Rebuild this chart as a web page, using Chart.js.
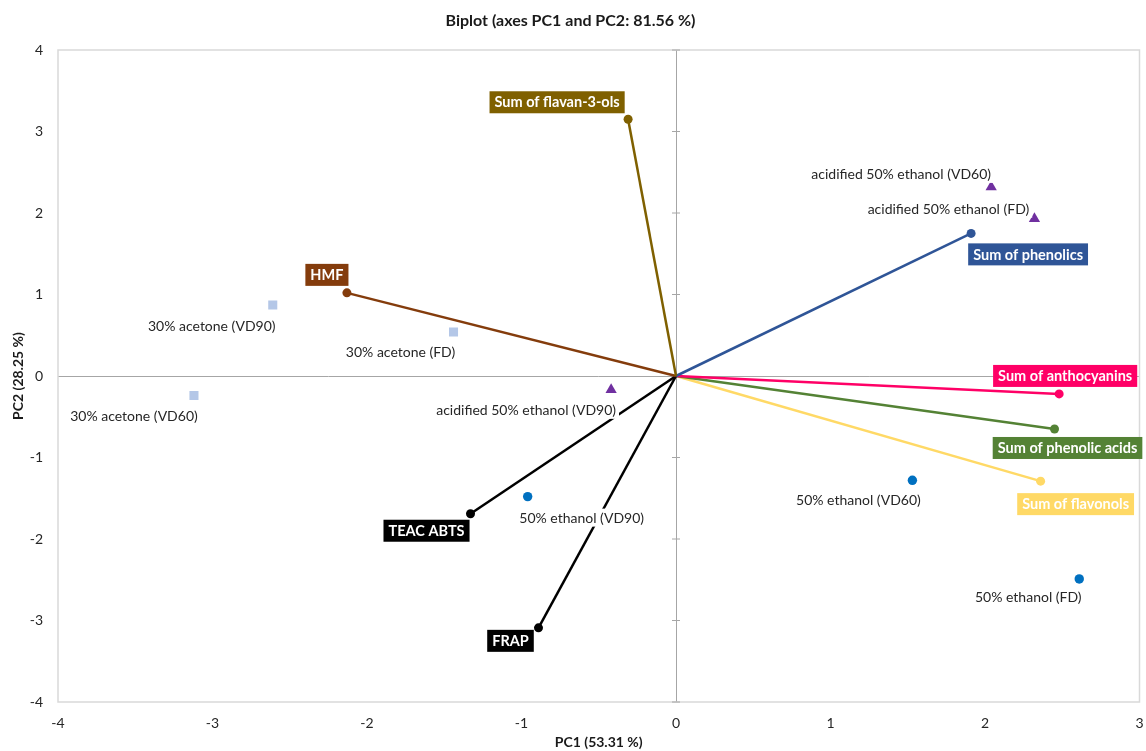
<!DOCTYPE html>
<html>
<head>
<meta charset="utf-8">
<script src="https://cdn.jsdelivr.net/npm/chart.js@4.4.1/dist/chart.umd.min.js"></script>
<style>
  html, body { margin: 0; padding: 0; background: #ffffff; }
  #wrap { width: 1146px; height: 751px; }
</style>
</head>
<body>
<div id="wrap"><canvas id="biplot" width="1146" height="751"></canvas></div>
<script>
// Variable loadings (vectors from the origin)
const variableNames = ['Sum of flavan-3-ols', 'Sum of phenolics', 'HMF', 'TEAC ABTS', 'FRAP',
  'Sum of anthocyanins', 'Sum of phenolic acids', 'Sum of flavonols'];
const variablePC1 = [-0.31, 1.91, -2.13, -1.33, -0.89, 2.48, 2.45, 2.36];
const variablePC2 = [3.15, 1.75, 1.02, -1.69, -3.09, -0.22, -0.65, -1.29];

// Observation scores, one group per extraction solvent
const acetoneNames = ['30% acetone (VD90)', '30% acetone (FD)', '30% acetone (VD60)'];
const acetonePC1 = [-2.61, -1.44, -3.12];
const acetonePC2 = [0.87, 0.54, -0.24];

const acidifiedNames = ['acidified 50% ethanol (VD60)', 'acidified 50% ethanol (FD)', 'acidified 50% ethanol (VD90)'];
const acidifiedPC1 = [2.04, 2.32, -0.42];
const acidifiedPC2 = [2.32, 1.93, -0.17];

const ethanolNames = ['50% ethanol (VD90)', '50% ethanol (VD60)', '50% ethanol (FD)'];
const ethanolPC1 = [-0.96, 1.53, 2.61];
const ethanolPC2 = [-1.48, -1.28, -2.49];

// Axis ticks
const xTicks = [-4, -3, -2, -1, 0, 1, 2, 3];
const yTicks = [-4, -3, -2, -1, 0, 1, 2, 3, 4];

// Styling
const variableColors = ['#7F6000', '#2F5597', '#843C0C', '#000000', '#000000', '#FF0066', '#548235', '#FFD966'];
// Label box offsets (px) from each vector tip
const variableLabelOffsets = [[-71, -17], [57, 21], [-20, -18], [-44, 17], [-28, 13], [6, -18], [13, 19], [35, 23]];
const acetoneLabelOffsets = [[-61, 21], [-53, 20], [-60, 20]];
const acidifiedLabelOffsets = [[-90, -13], [-86, -10], [-85, 20]];
const ethanolLabelOffsets = [[54, 21], [-54, 20], [-51, 18]];

const FONT = 'Lato, "Open Sans", "Liberation Sans", sans-serif';
const AXIS_COLOR = '#A6A6A6';

const toPoints = (xs, ys) => xs.map((x, i) => ({ x: x, y: ys[i] }));

const datasets = [];
variableNames.forEach((name, i) => {
  datasets.push({
    label: name,
    kind: 'vector',
    index: i,
    data: [{ x: 0, y: 0 }, { x: variablePC1[i], y: variablePC2[i] }],
    showLine: true,
    borderColor: variableColors[i],
    backgroundColor: variableColors[i],
    borderWidth: 2.5,
    pointBorderWidth: 0,
    pointRadius: [0, 4.5],
    pointHoverRadius: [0, 4.5],
    pointStyle: 'circle'
  });
});
datasets.push({
  label: '30% acetone', kind: 'obs', names: acetoneNames, offsets: acetoneLabelOffsets,
  data: toPoints(acetonePC1, acetonePC2),
  pointStyle: 'rect', pointRadius: 6.4, backgroundColor: '#B4C7E7', borderColor: '#B4C7E7', pointBorderWidth: 0
});
datasets.push({
  label: 'acidified 50% ethanol', kind: 'obs', names: acidifiedNames, offsets: acidifiedLabelOffsets,
  data: toPoints(acidifiedPC1, acidifiedPC2),
  pointStyle: 'triangle', pointRadius: 6.5, backgroundColor: '#7030A0', borderColor: '#7030A0', pointBorderWidth: 0
});
datasets.push({
  label: '50% ethanol', kind: 'obs', names: ethanolNames, offsets: ethanolLabelOffsets,
  data: toPoints(ethanolPC1, ethanolPC2),
  pointStyle: 'circle', pointRadius: 4.7, backgroundColor: '#0070C0', borderColor: '#0070C0', pointBorderWidth: 0
});

// Frame around the plot area plus cross ticks on the vertical zero axis
const framePlugin = {
  id: 'frame',
  beforeDatasetsDraw(chart) {
    const { ctx, chartArea, scales } = chart;
    ctx.save();
    ctx.strokeStyle = '#D9D9D9';
    ctx.lineWidth = 1.5;
    ctx.strokeRect(chartArea.left, chartArea.top, chartArea.right - chartArea.left, chartArea.bottom - chartArea.top);
    const x0 = scales.x.getPixelForValue(0);
    ctx.strokeStyle = AXIS_COLOR;
    ctx.lineWidth = 1;
    yTicks.forEach(v => {
      const py = scales.y.getPixelForValue(v);
      ctx.beginPath();
      ctx.moveTo(x0 - 4, py);
      ctx.lineTo(x0 + 4, py);
      ctx.stroke();
    });
    ctx.restore();
  }
};

// Text labels for observations (white backed) and variable tips (coloured boxes)
const labelPlugin = {
  id: 'pointLabels',
  afterDatasetsDraw(chart) {
    const { ctx } = chart;
    ctx.save();
    ctx.textBaseline = 'middle';
    ctx.textAlign = 'center';
    chart.data.datasets.forEach((ds, di) => {
      const meta = chart.getDatasetMeta(di);
      if (ds.kind === 'obs') {
        ctx.font = '14px ' + FONT;
        meta.data.forEach((el, i) => {
          const cx = el.x + ds.offsets[i][0];
          const cy = el.y + ds.offsets[i][1];
          const w = ctx.measureText(ds.names[i]).width;
          ctx.fillStyle = '#ffffff';
          ctx.fillRect(cx - w / 2 - 3, cy - 9, w + 6, 18);
          ctx.fillStyle = '#262626';
          ctx.fillText(ds.names[i], cx, cy + 0.5);
        });
      } else if (ds.kind === 'vector') {
        ctx.font = 'bold 14.5px ' + FONT;
        const el = meta.data[1];
        const off = variableLabelOffsets[ds.index];
        const cx = el.x + off[0];
        const cy = el.y + off[1];
        const w = ctx.measureText(ds.label).width;
        ctx.fillStyle = variableColors[ds.index];
        ctx.fillRect(cx - w / 2 - 5, cy - 11, w + 10, 22);
        ctx.fillStyle = '#ffffff';
        ctx.fillText(ds.label, cx, cy + 0.5);
      }
    });
    ctx.restore();
  }
};

new Chart(document.getElementById('biplot'), {
  type: 'scatter',
  data: { datasets: datasets },
  options: {
    responsive: false,
    animation: false,
    events: [],
    layout: { padding: { left: 0, right: 5, top: 0, bottom: 0 } },
    plugins: {
      legend: { display: false },
      tooltip: { enabled: false },
      title: {
        display: true,
        text: 'Biplot (axes PC1 and PC2: 81.56 %)',
        color: '#1a1a1a',
        font: { family: FONT, size: 16, weight: 'bold', lineHeight: 1.2 },
        padding: { top: 11, bottom: 19.8 }
      }
    },
    scales: {
      x: {
        type: 'linear',
        min: -4, max: 3,
        afterBuildTicks: scale => { scale.ticks = xTicks.map(v => ({ value: v })); },
        afterFit: scale => { scale.height = 49; scale.paddingLeft = 0; scale.paddingRight = 0; },
        border: { display: false },
        grid: {
          drawTicks: false,
          lineWidth: 1,
          color: c => (c.tick && c.tick.value === 0 ? AXIS_COLOR : 'rgba(0,0,0,0)')
        },
        ticks: { color: '#262626', font: { family: FONT, size: 14 }, padding: 13 },
        title: {
          display: true,
          text: 'PC1 (53.31 %)',
          color: '#1a1a1a',
          font: { family: FONT, size: 14, weight: 'bold', lineHeight: 1.2 },
          padding: { top: 0, bottom: 0 }
        }
      },
      y: {
        type: 'linear',
        min: -4, max: 4,
        afterBuildTicks: scale => { scale.ticks = yTicks.map(v => ({ value: v })); },
        afterFit: scale => { scale.width = 58; scale.paddingTop = 0; scale.paddingBottom = 0; },
        border: { display: false },
        grid: {
          drawTicks: false,
          lineWidth: 1,
          color: c => (c.tick && c.tick.value === 0 ? AXIS_COLOR : 'rgba(0,0,0,0)')
        },
        ticks: { color: '#262626', font: { family: FONT, size: 14 }, padding: 15 },
        title: {
          display: true,
          text: 'PC2 (28.25 %)',
          color: '#1a1a1a',
          font: { family: FONT, size: 14, weight: 'bold', lineHeight: 1.2 },
          padding: { top: 10, bottom: 0 }
        }
      }
    }
  },
  plugins: [framePlugin, labelPlugin]
});
</script>
</body>
</html>
